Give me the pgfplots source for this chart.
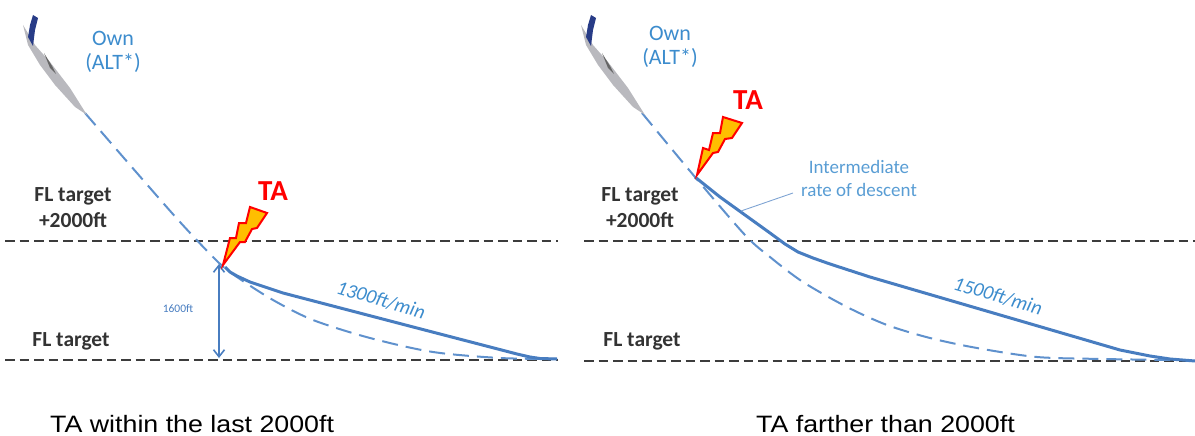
\documentclass[border=0pt]{standalone}
\usepackage{pgfplots}
\pgfplotsset{compat=1.18}
\usetikzlibrary{arrows.meta}
\usepackage{fontspec}
\setmainfont{Carlito}
\newfontfamily\arialfont{Liberation Sans}
\definecolor{lineblue}{RGB}{72,125,192}
\definecolor{dashblue}{RGB}{95,145,205}
\definecolor{textblue}{RGB}{60,140,205}
\definecolor{darkdash}{RGB}{60,60,60}
\definecolor{boltfill}{RGB}{255,190,0}
\definecolor{planeblue}{RGB}{40,60,135}
\definecolor{planegrey}{RGB}{185,185,190}
\begin{document}
\begin{tikzpicture}[x=1pt,y=1pt]
\useasboundingbox (0,0) rectangle (1195,436);
\begin{axis}[
	at={(0,0)}, anchor=south west,
	scale only axis,
	width=1195pt, height=436pt,
	xmin=0, xmax=1195,
	ymin=0, ymax=436,
	y dir=reverse,
	hide axis,
	clip=false,
	axis line style={draw=none}
]
% level lines
\addplot[darkdash, line width=2.2pt, dash pattern=on 9.5pt off 5pt] coordinates {(5,241) (558,241)};
\addplot[darkdash, line width=2pt, dash pattern=on 9.5pt off 5pt] coordinates {(5,360) (558,360)};
\addplot[darkdash, line width=2.2pt, dash pattern=on 9.5pt off 5pt] coordinates {(584,241) (1195,241)};
\addplot[darkdash, line width=2pt, dash pattern=on 9.5pt off 5pt] coordinates {(584,361) (1195,361)};
% planned descent, dashed
\addplot[dashblue, line width=2pt, dash pattern=on 16pt off 8pt, smooth] coordinates {
	(85,113) (130,165) (180,222) (218,262) (237,277) (273,300) (313,320) (370,338) (433,352) (500,358) (557,359)};
\addplot[dashblue, line width=2pt, dash pattern=on 16pt off 8pt, smooth] coordinates {
	(642,113) (695,177) (745,235) (770,257) (803,282) (847,307) (887,325) (930,338) (977,348) (1037,357) (1103,359) (1170,360)};
% actual descent
\addplot[lineblue, line width=3pt, line join=round] coordinates {
	(225,267) (230,272) (237,276) (250,282) (283,293) (417,328) (517,354) (530,357) (540,358.5) (557,359)};
\addplot[lineblue, line width=3pt, line join=round] coordinates {
	(695,177) (720,197) (770,233) (785,244) (798,252) (813,258) (830,264) (870,277) (1120,350) (1150,356) (1170,359) (1195,361)};
% 1600ft arrow
\addplot[lineblue, line width=1.6pt, {Straight Barb[length=7pt,width=11pt]}-{Straight Barb[length=7pt,width=11pt]}] coordinates {(219,264) (219,358)};
% leader
\addplot[lineblue!70, line width=0.9pt] coordinates {(741,211) (793,193)};
% bolts
\addplot[red, line width=2pt, fill=boltfill, line join=miter] coordinates {
	(223,265) (230,238) (236,238) (239,223) (246,223) (250,207) (267,213) (257,228) (252,229) (245,242) (240,242)} -- cycle;
\addplot[red, line width=2pt, fill=boltfill, line join=miter] coordinates {
	(697,175) (703,148) (709,150) (713,133) (720,133) (723,117) (742,123) (732,138) (725,139) (718,152) (713,153)} -- cycle;
% aeroplanes
\addplot[planegrey, fill=planegrey, draw=none] coordinates {
	(23,25) (35,45) (50,62) (70,88) (87,115) (75,107) (55,85) (40,65) (28,45)} -- cycle;
\addplot[black!60, fill=black!60, draw=none] coordinates {
	(44,53) (52,66) (56,74) (50,68)} -- cycle;
\addplot[planeblue, fill=planeblue, draw=none] coordinates {
	(33,15) (38,18) (35,30) (33,46) (28,37) (30,25)} -- cycle;
\addplot[planegrey, fill=planegrey, draw=none] coordinates {
	(581,25) (593,45) (608,62) (628,88) (645,115) (633,107) (613,85) (598,65) (586,45)} -- cycle;
\addplot[black!60, fill=black!60, draw=none] coordinates {
	(602,53) (610,66) (614,74) (608,68)} -- cycle;
\addplot[planeblue, fill=planeblue, draw=none] coordinates {
	(591,15) (596,18) (593,30) (591,46) (586,37) (588,25)} -- cycle;
% texts
\node[textblue, font=\fontsize{22}{24}\selectfont, align=center] at (axis cs:113,52) {Own\\(ALT*)};
\node[textblue, font=\fontsize{22}{24}\selectfont, align=center] at (axis cs:670,47) {Own\\(ALT*)};
\node[red, font=\fontsize{29}{30}\selectfont\bfseries] at (axis cs:273,191) {TA};
\node[red, font=\fontsize{29}{30}\selectfont\bfseries] at (axis cs:748,100) {TA};
\node[black!80, font=\fontsize{21.5}{26}\selectfont\bfseries, align=center] at (axis cs:73,208) {FL target\\+2000ft};
\node[black!80, font=\fontsize{21.5}{26}\selectfont\bfseries, align=center] at (axis cs:640,208) {FL target\\+2000ft};
\node[black!80, font=\fontsize{21.5}{24}\selectfont\bfseries] at (axis cs:71,341) {FL target};
\node[black!80, font=\fontsize{21.5}{24}\selectfont\bfseries] at (axis cs:642,341) {FL target};
\node[lineblue, font=\fontsize{11.5}{13}\selectfont] at (axis cs:178,309) {1600ft};
\node[textblue, font=\fontsize{20}{22}\selectfont\itshape, rotate=-16.5] at (axis cs:381,300) {1300ft/min};
\node[textblue, font=\fontsize{20}{22}\selectfont\itshape, rotate=-16.5] at (axis cs:998,296) {1500ft/min};
\node[textblue!85, font=\fontsize{19}{23}\selectfont, align=center] at (axis cs:859,178) {Intermediate\\rate of descent};
\node[black, font=\arialfont\fontsize{23.7}{26}\selectfont, anchor=base west, inner sep=0pt, xscale=1.13] at (axis cs:50,432) {TA within the last 2000ft};
\node[black, font=\arialfont\fontsize{23.7}{26}\selectfont, anchor=base west, inner sep=0pt, xscale=1.13] at (axis cs:756,432) {TA farther than 2000ft};
\end{axis}
\end{tikzpicture}
\end{document}
